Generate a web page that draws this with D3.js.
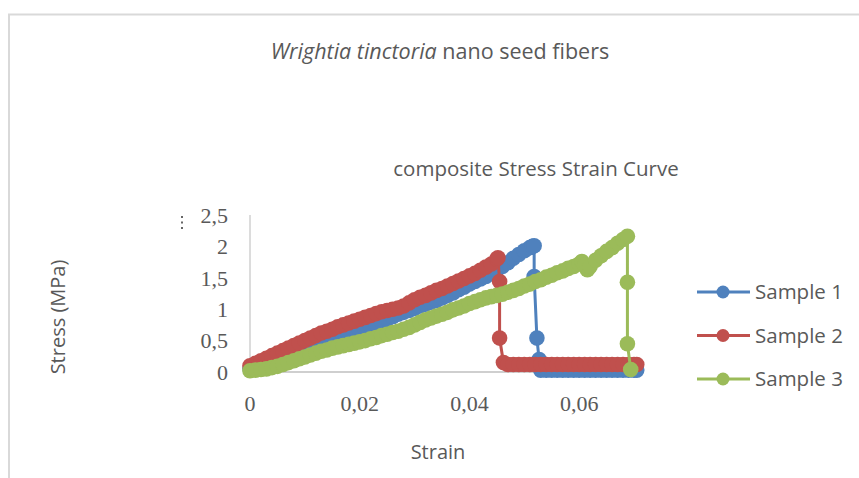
<!DOCTYPE html>
<html>
<head>
<meta charset="utf-8">
<script src="https://cdn.jsdelivr.net/npm/d3@7"></script>
<style>
  body { margin: 0; background: #fff; }
  text { fill: #595959; }
</style>
</head>
<body>
<div id="chart"></div>
<script>
// Chart data
var seriesNames = ["Sample 1", "Sample 2", "Sample 3"];

// Sample 1
var strain1 = [0, 0.001, 0.002, 0.003, 0.004, 0.005, 0.006, 0.007, 0.008, 0.009,
  0.010, 0.011, 0.012, 0.013, 0.014, 0.015, 0.016, 0.017, 0.018, 0.019,
  0.020, 0.021, 0.022, 0.023, 0.024, 0.025, 0.026, 0.027, 0.028, 0.029,
  0.030, 0.031, 0.032, 0.033, 0.034, 0.035, 0.036, 0.037, 0.038, 0.039,
  0.040, 0.041, 0.042, 0.043, 0.044, 0.045, 0.046, 0.047, 0.048, 0.049,
  0.050, 0.051, 0.0515, 0.0518, 0.0518, 0.0523, 0.0527, 0.053,
  0.054, 0.055, 0.056, 0.057, 0.058, 0.059, 0.060, 0.061, 0.062, 0.063,
  0.064, 0.065, 0.066, 0.067, 0.068, 0.069, 0.070, 0.0705];
var stress1 = [0.05, 0.07, 0.1, 0.12, 0.15, 0.19, 0.23, 0.27, 0.31, 0.35,
  0.38, 0.42, 0.45, 0.48, 0.51, 0.54, 0.56, 0.58, 0.61, 0.63,
  0.65, 0.68, 0.72, 0.76, 0.80, 0.84, 0.88, 0.92, 0.95, 0.98,
  1.01, 1.05, 1.08, 1.11, 1.14, 1.18, 1.22, 1.26, 1.31, 1.35,
  1.40, 1.44, 1.48, 1.52, 1.57, 1.62, 1.68, 1.74, 1.81, 1.87,
  1.93, 1.98, 2.0, 2.01, 1.52, 0.54, 0.2, 0.03,
  0.03, 0.03, 0.03, 0.03, 0.03, 0.03, 0.03, 0.03, 0.03, 0.03,
  0.03, 0.03, 0.03, 0.03, 0.03, 0.03, 0.03, 0.03];

// Sample 2
var strain2 = [0, 0.001, 0.002, 0.003, 0.004, 0.005, 0.006, 0.007, 0.008, 0.009,
  0.010, 0.011, 0.012, 0.013, 0.014, 0.015, 0.016, 0.017, 0.018, 0.019,
  0.020, 0.021, 0.022, 0.023, 0.024, 0.025, 0.026, 0.027, 0.028, 0.029,
  0.030, 0.031, 0.032, 0.033, 0.034, 0.035, 0.036, 0.037, 0.038, 0.039,
  0.040, 0.041, 0.042, 0.043, 0.044, 0.045, 0.0452, 0.0455, 0.0455, 0.0462,
  0.047, 0.048, 0.049, 0.050, 0.051, 0.052, 0.053, 0.054, 0.055, 0.056,
  0.057, 0.058, 0.059, 0.060, 0.061, 0.062, 0.063, 0.064, 0.065, 0.066,
  0.067, 0.068, 0.069, 0.070, 0.0705];
var stress2 = [0.1, 0.14, 0.18, 0.22, 0.26, 0.3, 0.34, 0.38, 0.42, 0.46,
  0.5, 0.54, 0.58, 0.62, 0.65, 0.68, 0.72, 0.75, 0.78, 0.81,
  0.84, 0.87, 0.9, 0.93, 0.96, 0.98, 1.0, 1.02, 1.05, 1.1,
  1.15, 1.19, 1.22, 1.26, 1.3, 1.33, 1.37, 1.41, 1.45, 1.49,
  1.53, 1.57, 1.62, 1.67, 1.72, 1.8, 1.82, 1.44, 0.54, 0.15,
  0.12, 0.12, 0.12, 0.12, 0.12, 0.12, 0.12, 0.12, 0.12, 0.12,
  0.12, 0.12, 0.12, 0.12, 0.12, 0.12, 0.12, 0.12, 0.12, 0.12,
  0.12, 0.12, 0.12, 0.12, 0.12];

// Sample 3
var strain3 = [0, 0.001, 0.002, 0.003, 0.004, 0.005, 0.006, 0.007, 0.008, 0.009,
  0.010, 0.011, 0.012, 0.013, 0.014, 0.015, 0.016, 0.017, 0.018, 0.019,
  0.020, 0.021, 0.022, 0.023, 0.024, 0.025, 0.026, 0.027, 0.028, 0.029,
  0.030, 0.031, 0.032, 0.033, 0.034, 0.035, 0.036, 0.037, 0.038, 0.039,
  0.040, 0.041, 0.042, 0.043, 0.044, 0.045, 0.046, 0.047, 0.048, 0.049,
  0.050, 0.051, 0.052, 0.053, 0.054, 0.055, 0.056, 0.057, 0.058, 0.059,
  0.060, 0.0605, 0.061, 0.0615, 0.062, 0.063, 0.064, 0.065, 0.066, 0.067,
  0.068, 0.0688, 0.0688, 0.0688, 0.0694];
var stress3 = [0.02, 0.03, 0.04, 0.05, 0.07, 0.09, 0.12, 0.15, 0.18, 0.21,
  0.24, 0.27, 0.30, 0.33, 0.35, 0.38, 0.40, 0.42, 0.44, 0.46,
  0.48, 0.5, 0.53, 0.55, 0.58, 0.6, 0.63, 0.65, 0.68, 0.71,
  0.75, 0.79, 0.83, 0.86, 0.89, 0.92, 0.95, 0.99, 1.02, 1.05,
  1.09, 1.12, 1.15, 1.18, 1.2, 1.22, 1.24, 1.27, 1.30, 1.33,
  1.37, 1.40, 1.44, 1.47, 1.51, 1.54, 1.58, 1.61, 1.65, 1.68,
  1.72, 1.76, 1.70, 1.63, 1.68, 1.78, 1.85, 1.92, 1.98, 2.05,
  2.11, 2.16, 1.43, 0.45, 0.04];

var xTicks = [0, 0.02, 0.04, 0.06];
var yTicks = [0, 0.5, 1, 1.5, 2, 2.5];
var colors = ["#4F81BD", "#C0504D", "#9BBB59"];

var svgWidth = 859;
var svgHeight = 478;

var svg = d3.select("#chart")
  .append("svg")
  .attr("width", svgWidth)
  .attr("height", svgHeight);

// Chart area border (runs off the right and bottom edges)
svg.append("path")
  .attr("d", "M9,478 V14.5 H859")
  .attr("fill", "none")
  .attr("stroke", "#d9d9d9")
  .attr("stroke-width", 2);

// Scales
var xScale = d3.scaleLinear().domain([0, 0.07]).range([250, 634]);
var yScale = d3.scaleLinear().domain([0, 2.5]).range([372, 215]);

// Axis lines
svg.append("line")
  .attr("x1", xScale(0)).attr("x2", xScale(0.07) + 6)
  .attr("y1", yScale(0)).attr("y2", yScale(0))
  .attr("stroke", "#bfbfbf").attr("stroke-width", 1.5);
svg.append("line")
  .attr("x1", xScale(0)).attr("x2", xScale(0))
  .attr("y1", yScale(0)).attr("y2", yScale(2.5))
  .attr("stroke", "#d0d0d0").attr("stroke-width", 1.5);

var commaFmt = function(v) { return String(v).replace(".", ","); };

// Tick labels
svg.selectAll(".ylab")
  .data(yTicks)
  .enter()
  .append("text")
  .attr("x", 228)
  .attr("y", d => yScale(d))
  .attr("dy", "0.35em")
  .attr("text-anchor", "end")
  .attr("font-family", "Liberation Serif, serif")
  .attr("font-size", "22px")
  .text(commaFmt);

svg.selectAll(".xlab")
  .data(xTicks)
  .enter()
  .append("text")
  .attr("x", d => xScale(d))
  .attr("y", 411)
  .attr("text-anchor", "middle")
  .attr("font-family", "Liberation Serif, serif")
  .attr("font-size", "22px")
  .text(commaFmt);

// little dots left of the y axis
svg.selectAll(".dots")
  .data([0, 1, 2])
  .enter()
  .append("rect")
  .attr("x", 181)
  .attr("y", d => 216 + d * 5.5)
  .attr("width", 2)
  .attr("height", 2)
  .attr("fill", "#666");

// Series
var series = [
  { name: seriesNames[0], xs: strain1, ys: stress1 },
  { name: seriesNames[1], xs: strain2, ys: stress2 },
  { name: seriesNames[2], xs: strain3, ys: stress3 }
];

var line = d3.line()
  .x(d => xScale(d[0]))
  .y(d => yScale(d[1]));

series.forEach(function(s, i) {
  var pts = s.xs.map((x, j) => [x, s.ys[j]]);
  var g = svg.append("g");
  g.append("path")
    .datum(pts)
    .attr("d", line)
    .attr("fill", "none")
    .attr("stroke", colors[i])
    .attr("stroke-width", 3);
  g.selectAll("circle")
    .data(pts)
    .enter()
    .append("circle")
    .attr("cx", d => xScale(d[0]))
    .attr("cy", d => yScale(d[1]))
    .attr("r", 7.8)
    .attr("fill", colors[i]);
});

// Titles
var sans = "Open Sans, sans-serif";

svg.append("text")
  .attr("x", 440)
  .attr("y", 59)
  .attr("text-anchor", "middle")
  .attr("font-family", sans)
  .attr("font-size", "21.5px")
  .html('<tspan font-style="italic">Wrightia tinctoria</tspan> nano seed fibers');

svg.append("text")
  .attr("x", 536)
  .attr("y", 176)
  .attr("text-anchor", "middle")
  .attr("font-family", sans)
  .attr("font-size", "20.5px")
  .text("composite Stress Strain Curve");

svg.append("text")
  .attr("transform", "translate(65, 317) rotate(-90)")
  .attr("text-anchor", "middle")
  .attr("font-family", sans)
  .attr("font-size", "20px")
  .text("Stress (MPa)");

svg.append("text")
  .attr("x", 438)
  .attr("y", 459)
  .attr("text-anchor", "middle")
  .attr("font-family", sans)
  .attr("font-size", "20px")
  .text("Strain");

// Legend
var legend = svg.selectAll(".legend")
  .data(seriesNames)
  .enter()
  .append("g")
  .attr("transform", (d, i) => `translate(697, ${292 + i * 43.5})`);

legend.append("line")
  .attr("x1", 0).attr("x2", 53)
  .attr("stroke", (d, i) => colors[i])
  .attr("stroke-width", 3);
legend.append("circle")
  .attr("cx", 26)
  .attr("r", 6.5)
  .attr("fill", (d, i) => colors[i]);
legend.append("text")
  .attr("x", 58)
  .attr("dy", "0.35em")
  .attr("font-family", sans)
  .attr("font-size", "20.5px")
  .text(d => d);
</script>
</body>
</html>
